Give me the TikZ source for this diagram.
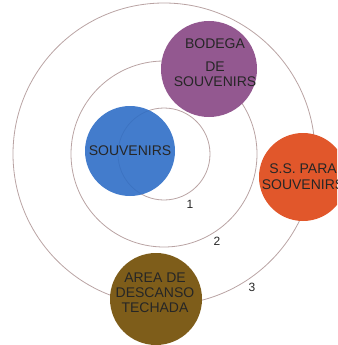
\documentclass[tikz,border=0pt]{standalone}
\usepackage{fontspec}
\setmainfont{Liberation Sans}
\usepackage{tikz}
\usetikzlibrary{positioning}
\definecolor{ringline}{HTML}{B9A3A3}
\definecolor{souvblue}{HTML}{2F6EC6}
\definecolor{bodegapurple}{HTML}{935890}
\definecolor{ssorange}{HTML}{E1572B}
\definecolor{areabrown}{HTML}{7E5D1A}

\begin{document}
\begin{tikzpicture}[x=1pt, y=-1pt,
    every node/.style={font=\fontsize{14}{15}\selectfont, text=black!85},
    ring/.style={draw=ringline, line width=0.8pt},
    zone/.style={circle, inner sep=0pt, align=center},
    ringnum/.style={font=\fontsize{12}{13}\selectfont}]
        \useasboundingbox (0,0) rectangle (337,345);
        \clip (0,0) rectangle (337,345);
        % rings
        \coordinate (o) at (164,154);
        \draw[ring] (o) circle[radius=46];
        \draw[ring] (o) circle[radius=93];
        \draw[ring] (o) circle[radius=151];
        % zones
        \node[zone,fill=souvblue,fill opacity=0.9,text opacity=1,minimum size=90pt] (souv) at (130,151) {SOUVENIRS};
        \node[zone,fill=bodegapurple,minimum size=96pt,
              label={[align=center,xshift=6pt,yshift=6pt]center:BODEGA\\[8pt]DE\\SOUVENIRS}] (bodega) at (209,69) {};
        \node[zone,fill=ssorange,minimum size=88pt] (ssp) at (303,177) {S.S. PARA\\[1pt]SOUVENIRS};
        \node[zone,fill=areabrown,minimum size=92pt,
              label={[align=center,xshift=-1pt,yshift=6pt]center:AREA DE\\DESCANSO\\TECHADA}] (area) at (156,299) {};
        % ring numbers
        \node[ringnum] (n1) at (190,204) {1};
        \node[ringnum] (n2) at (217,241) {2};
        \node[ringnum] (n3) at (252,287) {3};
      \end{tikzpicture}
\end{document}
